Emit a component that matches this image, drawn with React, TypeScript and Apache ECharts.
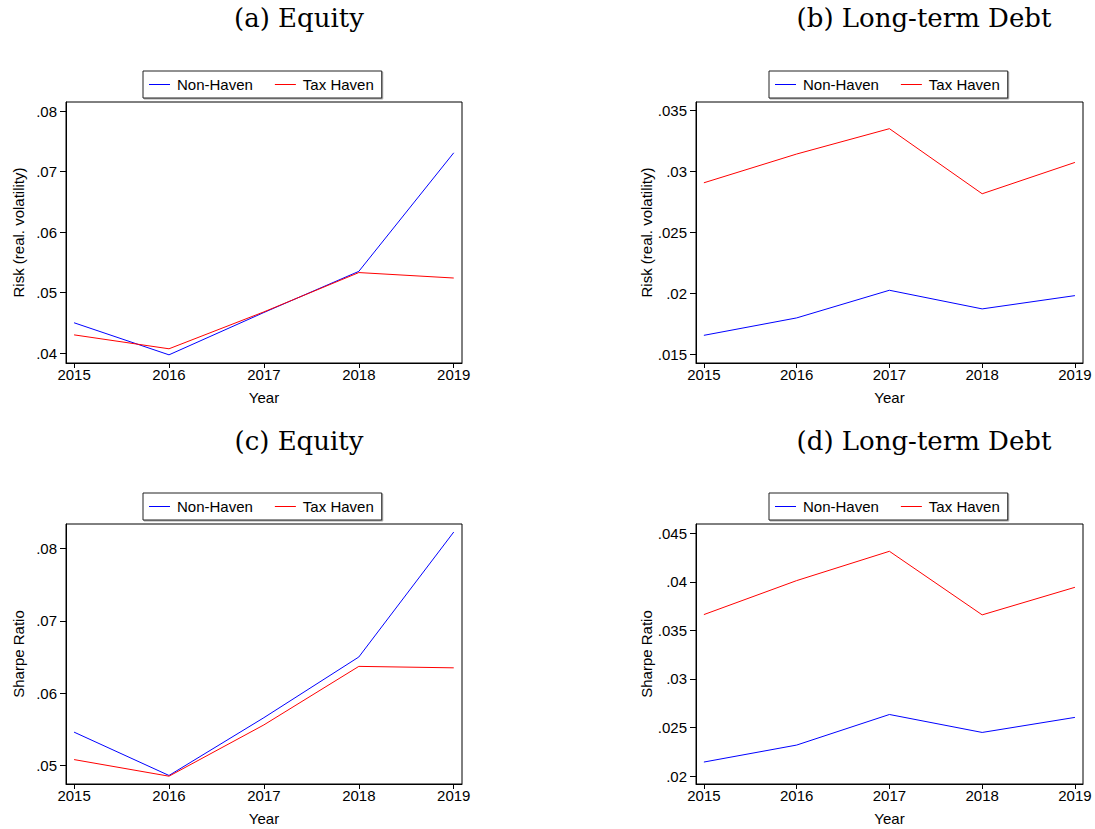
import React, { useEffect, useRef } from "react";
import * as echarts from "echarts";

const years = [2015, 2016, 2017, 2018, 2019];
const seriesNames = ["Non-Haven", "Tax Haven"];

const equityRiskNonHaven = [0.045, 0.0397, 0.0467, 0.0535, 0.0731];
const equityRiskTaxHaven = [0.043, 0.0407, 0.0468, 0.0533, 0.0524];
const debtRiskNonHaven = [0.01656, 0.01799, 0.02026, 0.01873, 0.01982];
const debtRiskTaxHaven = [0.02908, 0.03144, 0.03352, 0.02818, 0.03075];
const equitySharpeNonHaven = [0.0546, 0.0486, 0.0566, 0.065, 0.0823];
const equitySharpeTaxHaven = [0.0508, 0.0485, 0.0556, 0.0637, 0.0635];
const debtSharpeNonHaven = [0.02144, 0.02319, 0.02634, 0.02449, 0.02604];
const debtSharpeTaxHaven = [0.03663, 0.04013, 0.04315, 0.0366, 0.03944];

const equityRiskTicks = [0.04, 0.05, 0.06, 0.07, 0.08];
const debtRiskTicks = [0.015, 0.02, 0.025, 0.03, 0.035];
const equitySharpeTicks = [0.05, 0.06, 0.07, 0.08];
const debtSharpeTicks = [0.02, 0.025, 0.03, 0.035, 0.04, 0.045];

const panelTitles = ["(a) Equity", "(b) Long-term Debt", "(c) Equity", "(d) Long-term Debt"];
const yTitles = ["Risk (real. volatility)", "Risk (real. volatility)", "Sharpe Ratio", "Sharpe Ratio"];
const xTitle = "Year";

const SANS = "'Liberation Sans', Arial, sans-serif";
const SERIF = "'DejaVu Serif', serif";

const panels = [
  { grid: { left: 66, top: 102, width: 396, height: 261 }, yMin: 0.03835, yMax: 0.0815, ticks: equityRiskTicks, nh: equityRiskNonHaven, th: equityRiskTaxHaven, titleX: 299, titleY: 18, legendLeft: 143, legendTop: 71 },
  { grid: { left: 696, top: 102, width: 387, height: 261 }, yMin: 0.01429, yMax: 0.03571, ticks: debtRiskTicks, nh: debtRiskNonHaven, th: debtRiskTaxHaven, titleX: 924, titleY: 18, legendLeft: 769, legendTop: 71 },
  { grid: { left: 66, top: 524, width: 396, height: 260 }, yMin: 0.04742, yMax: 0.08341, ticks: equitySharpeTicks, nh: equitySharpeNonHaven, th: equitySharpeTaxHaven, titleX: 299, titleY: 441, legendLeft: 143, legendTop: 493 },
  { grid: { left: 696, top: 524, width: 387, height: 260 }, yMin: 0.01918, yMax: 0.04596, ticks: debtSharpeTicks, nh: debtSharpeNonHaven, th: debtSharpeTaxHaven, titleX: 924, titleY: 441, legendLeft: 769, legendTop: 493 },
];

const fmtY = (v: number) => parseFloat(v.toFixed(4)).toString().replace(/^0\./, ".");

export default function App() {
  const ref = useRef<HTMLDivElement>(null);
  useEffect(() => {
    if (!ref.current) return;
    const chart = echarts.init(ref.current, null, { renderer: "svg" });
    const black = "#000";
    const option: any = {
      animation: false,
      backgroundColor: "#fff",
      grid: panels.map((p) => ({
        ...p.grid,
        show: true,
        borderColor: black,
        borderWidth: 1,
        backgroundColor: "transparent",
        containLabel: false,
      })),
      xAxis: panels.map((p, i) => ({
        type: "value",
        gridIndex: i,
        min: 2014.915,
        max: 2019.087,
        splitLine: { show: false },
        axisLine: { show: true, onZero: false, lineStyle: { color: black, width: 1 } },
        axisTick: { show: true, length: 5, customValues: years, lineStyle: { color: black, width: 1 } },
        axisLabel: {
          customValues: years,
          formatter: (v: number) => String(Math.round(v)),
          margin: 4,
          fontSize: 15,
          fontFamily: SANS,
          color: black,
        },
        name: xTitle,
        nameLocation: "middle",
        nameGap: 27,
        nameTextStyle: { fontSize: 15, fontFamily: SANS, color: black },
      })),
      yAxis: panels.map((p, i) => ({
        type: "value",
        gridIndex: i,
        min: p.yMin,
        max: p.yMax,
        splitLine: { show: false },
        axisLine: { show: true, onZero: false, lineStyle: { color: black, width: 1 } },
        axisTick: { show: true, length: 6, customValues: p.ticks, lineStyle: { color: black, width: 1 } },
        axisLabel: {
          customValues: p.ticks,
          formatter: fmtY,
          margin: 9,
          fontSize: 15,
          fontFamily: SANS,
          color: black,
        },
        name: yTitles[i],
        nameLocation: "middle",
        nameGap: 40,
        nameTextStyle: { fontSize: 15, fontFamily: SANS, color: black },
      })),
      legend: panels.map((p) => ({
        data: seriesNames,
        left: p.legendLeft,
        top: p.legendTop,
        orient: "horizontal",
        icon: "rect",
        itemWidth: 21,
        itemHeight: 1,
        itemGap: 22,
        textStyle: { fontSize: 15, fontFamily: SANS, color: black, padding: [0, 0, 0, 2] },
        padding: [6, 8, 6, 6],
        borderColor: "#222",
        borderWidth: 1,
        backgroundColor: "#fff",
        shadowColor: "rgba(0,0,0,0.35)",
        shadowOffsetX: 1,
        shadowOffsetY: 1,
        selectedMode: false,
      })),
      series: panels.flatMap((p, i) => [
        {
          type: "line",
          name: seriesNames[0],
          xAxisIndex: i,
          yAxisIndex: i,
          data: years.map((y, k) => [y, p.nh[k]]),
          symbol: "none",
          color: "#0000ff",
          lineStyle: { color: "#0000ff", width: 1 },
          emphasis: { disabled: true },
        },
        {
          type: "line",
          name: seriesNames[1],
          xAxisIndex: i,
          yAxisIndex: i,
          data: years.map((y, k) => [y, p.th[k]]),
          symbol: "none",
          color: "#ff0000",
          lineStyle: { color: "#ff0000", width: 1 },
          emphasis: { disabled: true },
        },
      ]),
      graphic: panels.map((p, i) => ({
        type: "text",
        x: p.titleX,
        y: p.titleY,
        style: {
          text: panelTitles[i],
          font: `26px ${SERIF}`,
          fill: black,
          align: "center",
          verticalAlign: "middle",
        },
      })),
    };
    chart.setOption(option);
    return () => chart.dispose();
  }, []);
  return (
    <div
      ref={ref}
      style={{ position: "absolute", left: 0, top: 0, width: 1095, height: 829 }}
    />
  );
}
